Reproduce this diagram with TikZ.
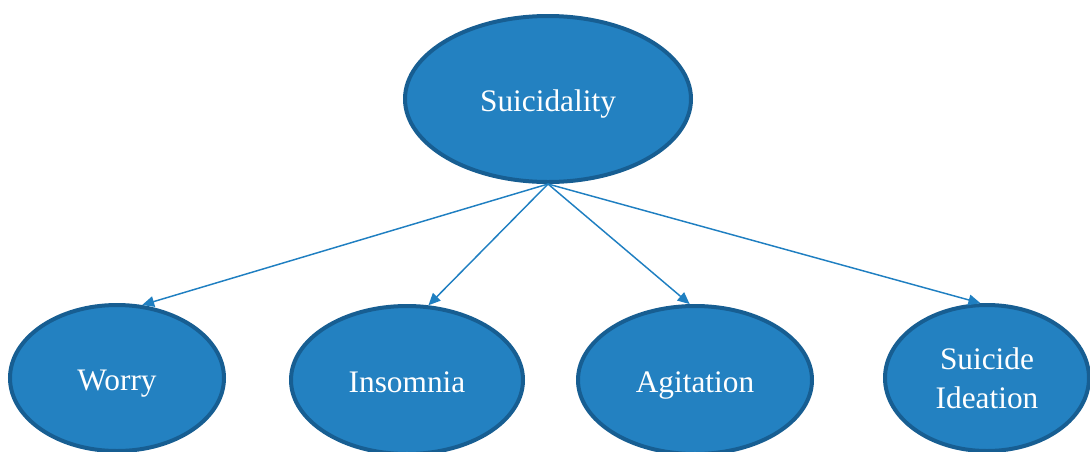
\documentclass[tikz,border=0pt]{standalone}
\usepackage{fontspec}
\setmainfont{Liberation Serif}
\usepackage{tikz}
\usetikzlibrary{shapes.geometric, arrows.meta}
\definecolor{bfill}{HTML}{2381C1}
\definecolor{bedge}{HTML}{175E92}
\definecolor{link}{HTML}{1F7FC1}

\begin{document}
\begin{tikzpicture}[x=0.75pt, y=-0.75pt,
  bubble/.style={ellipse, fill=bfill, draw=bedge, line width=3pt, inner sep=0pt,
                 text=white, font=\fontsize{23.5}{29}\selectfont, align=center},
  oneline/.style={text height=18pt, text depth=0pt},
  link/.style={draw=link, line width=1.1pt,
               -{Triangle[length=9pt, width=8pt]}}]
  \useasboundingbox (0,0) rectangle (1090,451);
  \node[bubble, oneline, minimum width=214.5pt, minimum height=124.5pt] (s) at (548, 99) {Suicidality};
  \node[bubble, oneline, minimum width=160.5pt, minimum height=109.5pt] (w) at (117,378) {Worry};
  \node[bubble, oneline, minimum width=174pt, minimum height=111pt] (i) at (407,380) {Insomnia};
  \node[bubble, oneline, minimum width=175.5pt, minimum height=111pt] (a) at (695,380) {Agitation};
  \node[bubble, minimum width=153pt, minimum height=109.5pt] (d) at (987,378) {Suicide\\Ideation};
  \draw[link] (s.south) -- (w.71);
  \draw[link] (s.south) -- (i.74);
  \draw[link] (s.south) -- (a.94);
  \draw[link] (s.south) -- (d.95);
\end{tikzpicture}
\end{document}
